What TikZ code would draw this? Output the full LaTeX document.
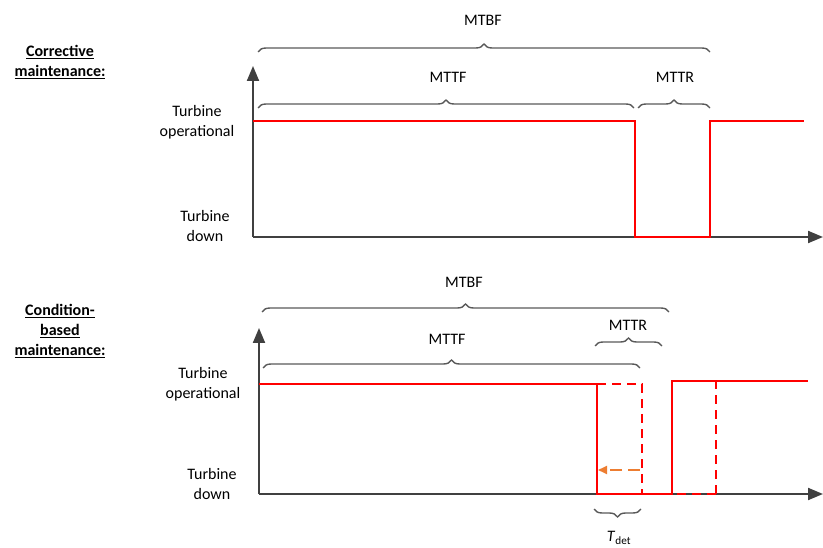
\documentclass[tikz,border=0pt]{standalone}
\usepackage{fontspec}
\setmainfont{Carlito}
\usetikzlibrary{decorations.pathreplacing,arrows.meta}
\definecolor{axisgray}{HTML}{404040}
\definecolor{bracegray}{HTML}{595959}
\definecolor{tred}{HTML}{FF0000}
\definecolor{torange}{HTML}{ED7D31}
\begin{document}
\begin{tikzpicture}[x=1pt,y=-1pt,
  every node/.style={font=\fontsize{16}{20}\selectfont, inner sep=0pt},
  axis/.style={draw=axisgray, line width=2pt, -{Triangle[length=15pt,width=12pt]}},
  trace/.style={draw=tred, line width=1.8pt},
  dtrace/.style={draw=tred, line width=1.8pt, dash pattern=on 9pt off 6pt},
  bracekey/.style={draw=bracegray, line width=1.4pt, decorate, decoration={brace, amplitude=8pt, aspect=0.5}},
  mbracekey/.style={draw=bracegray, line width=1.4pt, decorate, decoration={brace, mirror, amplitude=8pt, aspect=0.5}},
  lbl/.style={align=center},
  title/.style={align=center, font=\fontsize{16}{20}\selectfont\bfseries}
]
\useasboundingbox (0,0) rectangle (823,548);

% ---------- Top: corrective ----------
\node[title] (tc) at (60,62) {\underline{Corrective}\\\underline{maintenance:}};
\node[lbl] (top1) at (197,122) {Turbine\\operational};
\node[lbl] (down1) at (205,226) {Turbine\\down};

\coordinate (o1) at (253,237);
\coordinate (yt1) at (253,66);
\coordinate (xt1) at (823,237);
\draw[axis] (o1) -- (yt1);
\draw[axis] (o1) -- (xt1);

\coordinate (a1) at (253,121);
\coordinate (b1) at (635,121);
\coordinate (c1) at (635,237);
\coordinate (d1) at (710,237);
\coordinate (e1) at (710,121);
\coordinate (f1) at (804,121);
\draw[trace] (a1) -- (b1) -- (c1) -- (d1) -- (e1) -- (f1);

\draw[bracekey] (258,52) -- (710,52);
\node (mtbf1) at (483,20) {MTBF};
\draw[bracekey] (258,108) -- (634,108);
\node (mttf1) at (448,77) {MTTF};
\draw[bracekey] (638,108) -- (710,108);
\node (mttr1) at (675,77) {MTTR};

% ---------- Bottom: condition-based ----------
\node[title] (tb) at (60,331) {\underline{Condition-}\\\underline{based}\\\underline{maintenance:}};
\node[lbl] (top2) at (203,384) {Turbine\\operational};
\node[lbl] (down2) at (212,484) {Turbine\\down};

\coordinate (o2) at (259,494);
\coordinate (yt2) at (259,328);
\coordinate (xt2) at (823,494);
\draw[axis] (o2) -- (yt2);
\draw[axis] (o2) -- (xt2);

\coordinate (a2) at (259,384);
\coordinate (b2) at (597,384);
\coordinate (c2) at (597,494);
\coordinate (d2) at (672,494);
\coordinate (e2) at (672,381);
\coordinate (f2) at (808,381);
\draw[trace] (a2) -- (b2) -- (c2) -- (d2) -- (e2) -- (f2);

\coordinate (g2) at (642,384);
\coordinate (h2) at (642,494);
\draw[dtrace] (b2) -- (g2) -- (h2);
\coordinate (i2) at (716,381);
\coordinate (j2) at (716,494);
\draw[dtrace] (j2) -- (i2);
\draw[dtrace] (j2) -- (d2);

\coordinate (ar1) at (640,470);
\coordinate (ar2) at (598,470);
\draw[draw=torange, line width=1.8pt, dash pattern=on 12pt off 6pt, -{Triangle[length=9pt,width=8pt]}] (ar1) -- (ar2);

\draw[bracekey] (262,312) -- (669,312);
\node (mtbf2) at (464,282) {MTBF};
\draw[bracekey] (263,368) -- (640,368);
\node (mttf2) at (447,339) {MTTF};
\draw[bracekey] (595,346) -- (662,346);
\node (mttr2) at (628,325) {MTTR};
\draw[mbracekey] (594,509) -- (641,509);
\node (tdet) at (619,538) {\textit{T}\textsubscript{det}};
\end{tikzpicture}
\end{document}
